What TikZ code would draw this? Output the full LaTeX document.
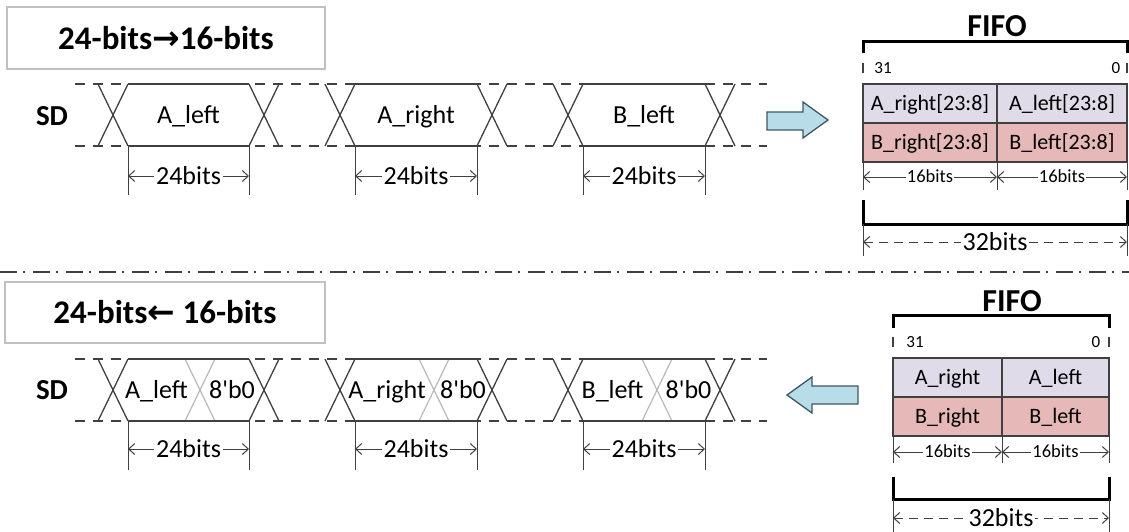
\documentclass[tikz,border=0pt]{standalone}
\usepackage{fontspec}
\setmainfont{Carlito}
\newfontfamily\arrowfont{DejaVu Sans}
\usetikzlibrary{arrows.meta}

\definecolor{linegray}{HTML}{404040}
\definecolor{boxgray}{HTML}{C0C0C0}
\definecolor{xgray}{HTML}{B8B8B8}
\definecolor{rowA}{HTML}{DFDBE9}
\definecolor{rowB}{HTML}{E6B9B8}
\definecolor{arrfill}{HTML}{B7DDE8}
\definecolor{arrdraw}{HTML}{3E5863}

\begin{document}
\begin{tikzpicture}[x=1pt,y=-1pt,
  sig/.style={draw=linegray,line width=1.3pt},
  lite/.style={draw=xgray,line width=1.2pt},
  bus/.style={sig,dash pattern=on 10pt off 8pt},
  bracket/.style={draw=black,line width=3pt},
  dim/.style={draw=linegray,line width=1pt,{Straight Barb[length=6pt,width=11pt]}-{Straight Barb[length=6pt,width=11pt]}},
  bandtxt/.style={inner sep=0pt,font=\fontsize{26}{26}\selectfont,text height=18.5pt,text depth=2pt},
  dimtxt/.style={fill=white,inner xsep=2pt,inner ysep=0pt,font=\fontsize{26}{26}\selectfont,text height=17pt,text depth=1pt},
  smalldim/.style={dimtxt,inner xsep=1pt,font=\fontsize{18.5}{18.5}\selectfont,text height=12pt,text depth=1pt},
  bitno/.style={inner sep=0pt,font=\fontsize{17}{17}\selectfont},
  titlebox/.style={draw=boxgray,line width=1.5pt,inner sep=0pt,font=\fontsize{33}{33}\selectfont\bfseries},
  headtxt/.style={inner sep=0pt,font=\fontsize{32}{32}\selectfont\bfseries},
  cellA/.style={draw=linegray,line width=1.3pt,fill=rowA,inner sep=0pt,font=\fontsize{22}{22}\selectfont,text height=15.5pt,text depth=2pt},
  cellB/.style={cellA,fill=rowB},
  blockarrow/.style={draw=arrdraw,line width=1.3pt,fill=arrfill,line join=miter}]
\useasboundingbox (0,0) rectangle (1129,532);

% 24-bits -> 16-bits
\node[titlebox,minimum width=318pt,minimum height=62pt] (title1) at (166,38) {24-bits{\arrowfont→}16-bits};
\node[headtxt,font=\fontsize{29}{29}\selectfont\bfseries] (sd1) at (52,116) {SD};
\draw[bus] (75,84) -- (767,84) (75,146) -- (767,146);
\foreach \l/\r/\t/\n in {113/264/A\_left/a,340/492/A\_right/b,568/720/B\_left/c}{
  \draw[sig] (\l+15,84) -- (\r-15,84) (\l+15,146) -- (\r-15,146);
  \draw[sig] (\l-15,84) -- (\l+15,146) (\l-15,146) -- (\l+15,84);
  \draw[sig] (\r-15,84) -- (\r+15,146) (\r-15,146) -- (\r+15,84);
  \node[bandtxt] (top\n) at ({(\l+\r)/2},115) {\t};
  \coordinate (ta\n) at (\l+15,176);
  \coordinate (tb\n) at (\r-15,176);
  \draw[sig,line width=1pt] (\l+15,146) -- (\l+15,195) (\r-15,146) -- (\r-15,195);
  \draw[dim] (ta\n) -- node[dimtxt] (tw\n) {24bits} (tb\n);
}
\draw[blockarrow] (767,112) -- (803,112) -- (803,102) -- (828,120) -- (803,138) -- (803,130) -- (767,130) -- cycle;

% FIFO (top)
\node[headtxt] (fifo1) at (997,26) {FIFO};
\draw[bracket] (863,53) -- (863,42) -- (1127,42) -- (1127,53);
\draw[sig] (863,63) -- (863,73) (1127,63) -- (1127,73);
\node[bitno] (hi1) at (883,68) {31};
\node[bitno] (lo1) at (1116,68) {0};
\node[cellA,minimum width=134pt,minimum height=39pt] (ar1) at (930,103.5) {A\_right[23:8]};
\node[cellA,minimum width=130pt,minimum height=39pt] (al1) at (1062,103.5) {A\_left[23:8]};
\node[cellB,minimum width=134pt,minimum height=39pt] (br1) at (930,142.5) {B\_right[23:8]};
\node[cellB,minimum width=130pt,minimum height=39pt] (bl1) at (1062,142.5) {B\_left[23:8]};
\draw[sig,line width=1pt] (863,162) -- (863,190) (997,162) -- (997,190) (1127,162) -- (1127,190);
\coordinate (fa1) at (863,177);
\coordinate (fm1) at (997,177);
\coordinate (fb1) at (1127,177);
\draw[dim] (fa1) -- node[smalldim] {16bits} (fm1);
\draw[dim] (fm1) -- node[smalldim] {16bits} (fb1);
\draw[bracket] (863,200) -- (863,224) -- (1127,224) -- (1127,200);
\draw[sig,line width=1pt] (863,224) -- (863,256) (1127,224) -- (1127,256);
\coordinate (wa1) at (863,242);
\coordinate (wb1) at (1127,242);
\draw[dim,dash pattern=on 9pt off 6pt] (wa1) -- node[dimtxt] {32bits} (wb1);

\draw[draw=linegray,line width=1.3pt,dash pattern=on 17pt off 6pt on 2pt off 8pt] (0,272) -- (1129,272);

% 24-bits <- 16-bits
\node[titlebox,minimum width=320pt,minimum height=61pt] (title2) at (165,312.5) {24-bits{\arrowfont←} 16-bits};
\node[headtxt,font=\fontsize{29}{29}\selectfont\bfseries] (sd2) at (52,390) {SD};
\draw[bus] (75,359) -- (767,359) (75,421) -- (767,421);
\foreach \l/\c/\r/\t/\n in {113/200/264/A\_left/a,340/434/492/A\_right/b,568/657/720/B\_left/c}{
  \draw[lite] (\c-15,359) -- (\c+15,421) (\c-15,421) -- (\c+15,359);
  \draw[sig] (\l+15,359) -- (\r-15,359) (\l+15,421) -- (\r-15,421);
  \draw[sig] (\l-15,359) -- (\l+15,421) (\l-15,421) -- (\l+15,359);
  \draw[sig] (\r-15,359) -- (\r+15,421) (\r-15,421) -- (\r+15,359);
  \node[bandtxt] (bot\n) at ({(\l+\c)/2},390) {\t};
  \node[bandtxt] (pad\n) at ({(\c+\r)/2},390) {8\textquotesingle b0};
  \coordinate (ba\n) at (\l+15,449);
  \coordinate (bb\n) at (\r-15,449);
  \draw[sig,line width=1pt] (\l+15,421) -- (\l+15,470) (\r-15,421) -- (\r-15,470);
  \draw[dim] (ba\n) -- node[dimtxt] (bw\n) {24bits} (bb\n);
}
\draw[blockarrow] (858,386) -- (812,386) -- (812,377) -- (787,395) -- (812,413) -- (812,404) -- (858,404) -- cycle;

% FIFO (bottom)
\node[headtxt] (fifo2) at (1012,301) {FIFO};
\draw[bracket] (893,328) -- (893,315) -- (1109,315) -- (1109,328);
\draw[sig] (893,337) -- (893,347) (1109,337) -- (1109,347);
\node[bitno] (hi2) at (915,342) {31};
\node[bitno] (lo2) at (1096,342) {0};
\node[cellA,minimum width=109pt,minimum height=39pt] (ar2) at (947.5,377.5) {A\_right};
\node[cellA,minimum width=107pt,minimum height=39pt] (al2) at (1055.5,377.5) {A\_left};
\node[cellB,minimum width=109pt,minimum height=39pt] (br2) at (947.5,416.5) {B\_right};
\node[cellB,minimum width=107pt,minimum height=39pt] (bl2) at (1055.5,416.5) {B\_left};
\draw[sig,line width=1pt] (893,436) -- (893,463) (1002,436) -- (1002,463) (1109,436) -- (1109,463);
\coordinate (fa2) at (893,452);
\coordinate (fm2) at (1002,452);
\coordinate (fb2) at (1109,452);
\draw[dim] (fa2) -- node[smalldim] {16bits} (fm2);
\draw[dim] (fm2) -- node[smalldim] {16bits} (fb2);
\draw[bracket] (893,477) -- (893,499) -- (1109,499) -- (1109,477);
\draw[sig,line width=1pt] (893,499) -- (893,532) (1109,499) -- (1109,532);
\coordinate (wa2) at (893,518);
\coordinate (wb2) at (1109,518);
\draw[dim,dash pattern=on 9pt off 6pt] (wa2) -- node[dimtxt] {32bits} (wb2);
\end{tikzpicture}
\end{document}
